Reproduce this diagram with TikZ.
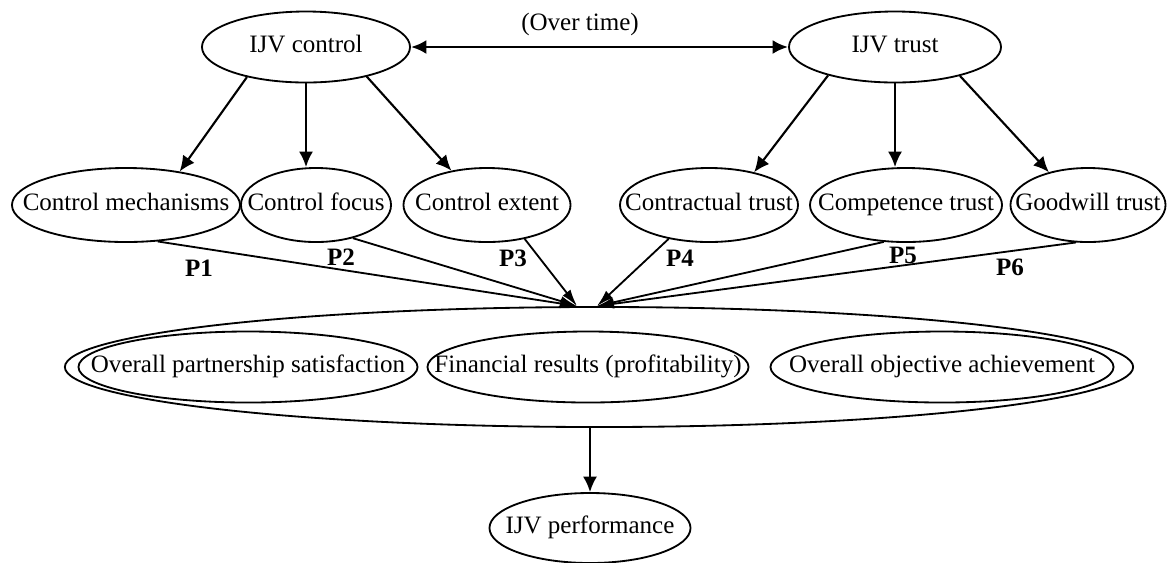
\documentclass[tikz,border=0pt]{standalone}
\usepackage{fontspec}
\setmainfont{Liberation Serif}
\usepackage{tikz}
\usetikzlibrary{arrows.meta,shapes.geometric}
\newcommand{\tight}[1]{\makebox[0pt]{\strut#1}}

\begin{document}
\begin{tikzpicture}[
  x=0.025cm,y=-0.025cm,
  every node/.style={font=\fontsize{17.8}{20}\selectfont},
  oval/.style={draw,ellipse,inner sep=0pt,line width=1.3pt,minimum height=18.5mm},
  lead/.style={oval,minimum height=17.75mm},
  part/.style={oval,minimum height=17.75mm},
  plabel/.style={font=\fontsize{17.8}{20}\selectfont\bfseries},
  arr/.style={-{Latex[length=11pt,width=10pt]},line width=1.5pt},
  conv/.style={-{Latex[length=12pt,width=7pt]},line width=1.3pt},
  both/.style={{Latex[length=11pt,width=10pt]}-{Latex[length=11pt,width=10pt]},line width=2pt}
]
\useasboundingbox (0,0) rectangle (1168,562);

\node[lead,minimum width=52mm] (ctrl) at (306,47) {\tight{IJV control}};
\node[lead,minimum width=53mm] (trust) at (895,47) {\tight{IJV trust}};
\node (time) at (580,24) {(Over time)};

\node[oval,minimum width=57mm] (mech) at (126,205) {\tight{Control mechanisms}};
\node[oval,minimum width=37.5mm] (focus) at (316,205) {\tight{Control focus}};
\node[oval,minimum width=41.75mm] (extent) at (487,205) {\tight{Control extent}};
\node[oval,minimum width=44.5mm] (contr) at (709,205) {\tight{Contractual trust}};
\node[oval,minimum width=48mm] (comp) at (906,205) {\tight{Competence trust}};
\node[oval,minimum width=38.75mm] (good) at (1088,205) {\tight{Goodwill trust}};

\node[oval,minimum width=267mm,minimum height=30mm] (outcome) at (599,367) {};
\node[part,minimum width=84.75mm] (satis) at (248,367) {\tight{Overall partnership satisfaction}};
\node[part,minimum width=80.25mm] (finance) at (588,367) {\tight{Financial results (profitability)}};
\node[part,minimum width=85.75mm] (object) at (942,367) {\tight{Overall objective achievement}};

\node[oval,minimum width=50.25mm,minimum height=17.5mm] (perf) at (590,528) {\tight{IJV performance}};

\node[plabel] (p1) at (199,268) {P1};
\node[plabel] (p2) at (341,257) {P2};
\node[plabel] (p3) at (513,258) {P3};
\node[plabel] (p4) at (680,258) {P4};
\node[plabel] (p5) at (903,255) {P5};
\node[plabel] (p6) at (1010,267) {P6};

\coordinate (inL) at (577,306);
\coordinate (inR) at (597,306);

\draw[both] (ctrl.east) -- (trust.west);

\draw[arr] (ctrl.207) -- (mech.32);
\draw[arr] (ctrl.south) -- (ctrl.south |- focus.north);
\draw[arr] (ctrl.334) -- (extent.136);
\draw[arr] (trust.203) -- (contr.36);
\draw[arr] (trust.south) -- (trust.south |- comp.north);
\draw[arr] (trust.336) -- (good.140);

\draw[conv] (mech.311) -- (inL);
\draw[conv] (focus.318) -- (inL);
\draw[conv] (extent.318) -- (inL);
\draw[conv] (contr.220) -- (inR);
\draw[conv] (comp.239) -- (inR);
\draw[conv] (good.252) -- (inR);

\draw[arr] (outcome.south -| perf.north) -- (perf.north);
\end{tikzpicture}
\end{document}
